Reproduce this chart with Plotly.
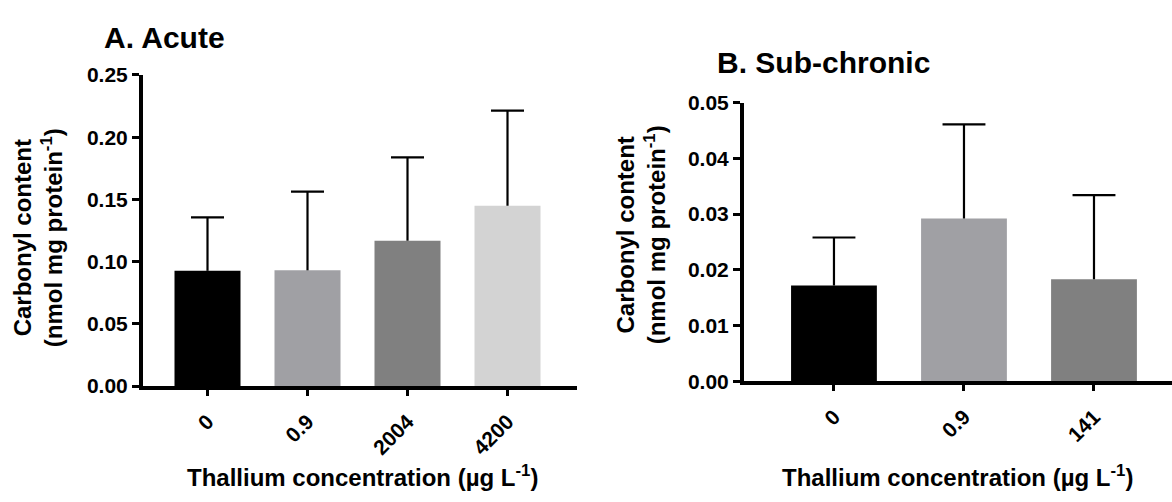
import plotly.graph_objects as go

# Acute exposure
acute_labels = ["0", "0.9", "2004", "4200"]
acute_mean = [0.0926, 0.0930, 0.1168, 0.1449]
acute_sd = [0.0430, 0.0632, 0.0670, 0.0765]
acute_colors = ["#000000", "#a0a0a4", "#808080", "#d3d3d3"]

# Sub-chronic exposure
sub_labels = ["0", "0.9", "141"]
sub_mean = [0.0172, 0.0292, 0.0183]
sub_sd = [0.0086, 0.0169, 0.0151]
sub_colors = ["#000000", "#a0a0a4", "#808080"]

acute_ticks = [0.0, 0.05, 0.10, 0.15, 0.20, 0.25]
sub_ticks = [0.0, 0.01, 0.02, 0.03, 0.04, 0.05]

W, H = 1172, 502
FONT = "Liberation Sans, Arial, Helvetica, sans-serif"
BAR_W = 0.66
CAP_HALF = 0.165


def xdom(left, right):
    return [left / W, right / W]


def ydom(bottom, top):
    return [1 - bottom / H, 1 - top / H]


def upper_error_path(means, sds):
    """Stem from the bar top up to mean+SD, with a horizontal cap (upper SD only)."""
    xs, ys = [], []
    for i, (m, s) in enumerate(zip(means, sds)):
        top = m + s
        xs += [i, i, None, i - CAP_HALF, i + CAP_HALF, None]
        ys += [m, top, None, top, top, None]
    return xs, ys


fig = go.Figure()

for labels, means, sds, colors, xa, ya in [
    (acute_labels, acute_mean, acute_sd, acute_colors, "x", "y"),
    (sub_labels, sub_mean, sub_sd, sub_colors, "x2", "y2"),
]:
    idx = list(range(len(labels)))
    fig.add_trace(go.Bar(
        x=idx, y=means, width=BAR_W,
        marker=dict(color=colors, line=dict(width=0)),
        xaxis=xa, yaxis=ya, showlegend=False, hoverinfo="skip",
    ))
    ex, ey = upper_error_path(means, sds)
    fig.add_trace(go.Scatter(
        x=ex, y=ey, mode="lines",
        line=dict(color="#000000", width=2.2),
        xaxis=xa, yaxis=ya, showlegend=False, hoverinfo="skip",
    ))

tick_font = dict(family=FONT, size=21, color="#000000", weight="bold")
axis_common = dict(
    showline=True, linecolor="#000000", linewidth=4,
    ticks="outside", tickcolor="#000000", tickwidth=3,
    showgrid=False, zeroline=False, tickfont=tick_font,
)
x_common = dict(tickangle=-45, ticklen=6, ticklabelstandoff=5, **axis_common)
y_common = dict(tickformat=".2f", ticklen=7, **axis_common)

fig.update_layout(
    width=W, height=H,
    margin=dict(l=0, r=0, t=0, b=0),
    paper_bgcolor="#ffffff", plot_bgcolor="#ffffff",
    xaxis=dict(domain=xdom(143, 577), range=[-0.645, 3.695],
               tickvals=list(range(len(acute_labels))), ticktext=acute_labels,
               anchor="y", **x_common),
    yaxis=dict(domain=ydom(392, 66), range=[0, 0.25],
               tickvals=acute_ticks, anchor="x", **y_common),
    xaxis2=dict(domain=xdom(744, 1172), range=[-0.692, 2.6],
                tickvals=list(range(len(sub_labels))), ticktext=sub_labels,
                anchor="y2", **x_common),
    yaxis2=dict(domain=ydom(387, 95), range=[0, 0.05],
                tickvals=sub_ticks, anchor="x2", **y_common),
)

title_font = dict(family=FONT, size=30, color="#000000", weight="bold")
label_font = dict(family=FONT, size=24, color="#000000", weight="bold")

ytitle = "Carbonyl content<br>(nmol mg protein<sup>-1</sup>)"
xtitle = "Thallium concentration (µg L<sup>-1</sup>)"

annotations = [
    dict(text="A. Acute", x=102 / W, y=1 - 27 / H, xanchor="left", yanchor="middle",
         font=title_font),
    dict(text="B. Sub-chronic", x=715 / W, y=1 - 53 / H, xanchor="left", yanchor="middle",
         font=title_font),
    dict(text=ytitle, x=38 / W, y=1 - 237 / H, textangle=-90, xanchor="center",
         yanchor="middle", font=label_font, align="center"),
    dict(text=ytitle, x=641 / W, y=1 - 234 / H, textangle=-90, xanchor="center",
         yanchor="middle", font=label_font, align="center"),
    dict(text=xtitle, x=362 / W, y=1 - 486 / H, xanchor="center", yanchor="middle",
         font=label_font),
    dict(text=xtitle, x=957 / W, y=1 - 486 / H, xanchor="center", yanchor="middle",
         font=label_font),
]
for a in annotations:
    a.update(xref="paper", yref="paper", showarrow=False)
fig.update_layout(annotations=annotations)

fig.write_html("out.html")
